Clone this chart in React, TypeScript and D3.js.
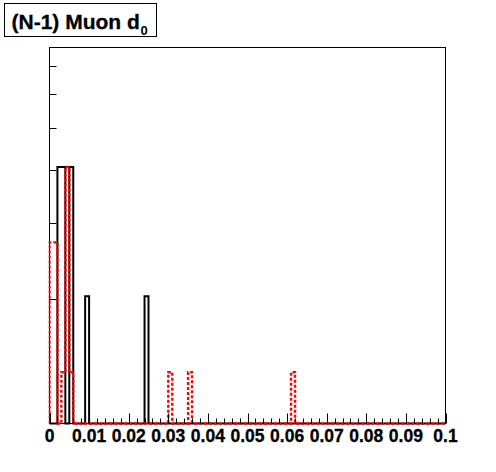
import React from "react";
import * as d3 from "d3";

// Histogram definition: 100 bins from 0 to 0.1
const xMin = 0;
const xMax = 0.1;
const nBins = 100;

// Non-empty bins (bin index, content) — black solid histogram
const blackBins = [2, 3, 5, 9, 24];
const blackValues = [4.06, 4.06, 4.06, 2.03, 2.03];

// Non-empty bins — red dotted histogram
const redBins = [0, 1, 3, 4, 5, 30, 35, 61];
const redValues = [2.71, 2.71, 1.35, 4.06, 1.35, 1.35, 1.35, 1.35];

const xTickLabels = ["0", "0.01", "0.02", "0.03", "0.04", "0.05", "0.06", "0.07", "0.08", "0.09", "0.1"];
const xTickValues = [0, 0.01, 0.02, 0.03, 0.04, 0.05, 0.06, 0.07, 0.08, 0.09, 0.1];
const yTickValues = [2, 3, 4, 5, 6, 7];
const yDomain = [1.025, 7.71];

const title = "(N-1) Muon d";
const titleSub = "0";

const W = 496;
const H = 472;
const frame = { left: 49.5, right: 445.5, top: 47.5, bottom: 423.5 };

function fillBins(idx: number[], vals: number[]): number[] {
  const arr = new Array(nBins).fill(0);
  idx.forEach((b, i) => {
    arr[b] = vals[i];
  });
  return arr;
}

export default function App() {
  const x = d3.scaleLinear().domain([xMin, xMax]).range([frame.left, frame.right]);
  const y = d3.scaleLog().domain(yDomain).range([frame.bottom, frame.top]);
  const bw = (xMax - xMin) / nBins;

  const yOf = (v: number) => (v > 0 ? y(v) : frame.bottom);

  const stepPath = (vals: number[]) => {
    const pts: [number, number][] = [];
    pts.push([x(xMin), frame.bottom]);
    vals.forEach((v, i) => {
      const x0 = x(xMin + i * bw);
      const x1 = x(xMin + (i + 1) * bw);
      pts.push([x0, yOf(v)]);
      pts.push([x1, yOf(v)]);
    });
    pts.push([x(xMax), frame.bottom]);
    return d3.line()(pts) || "";
  };

  const black = fillBins(blackBins, blackValues);
  const red = fillBins(redBins, redValues);

  const minorTicks = d3.range(0, 51).map((i) => i * 0.002);

  return (
    <svg
      width={W}
      height={H}
      style={{ position: "absolute", left: 0, top: 0, background: "#fff" }}
      fontFamily="'Liberation Sans', Arial, sans-serif"
    >
      <rect x={0} y={0} width={W} height={H} fill="#fff" />
      <defs>
        <clipPath id="frameClip">
          <rect x={frame.left - 1} y={frame.top} width={frame.right - frame.left + 2} height={frame.bottom - frame.top + 3} />
        </clipPath>
      </defs>

      {/* frame */}
      <rect
        x={frame.left}
        y={frame.top}
        width={frame.right - frame.left}
        height={frame.bottom - frame.top}
        fill="none"
        stroke="#000"
        strokeWidth={1}
      />

      {/* histograms */}
      <g clipPath="url(#frameClip)">
        <path d={stepPath(black)} fill="none" stroke="#000" strokeWidth={2} />
        <path d={stepPath(red)} fill="none" stroke="#ff0000" strokeWidth={2.4} strokeDasharray="3,2" />
      </g>

      {/* x ticks */}
      {minorTicks.map((t, i) => {
        const major = i % 5 === 0;
        const px = Math.round(x(t)) + 0.5;
        return (
          <line key={"xt" + i} x1={px} x2={px} y1={frame.bottom} y2={frame.bottom - (major ? 10 : 5)} stroke="#000" strokeWidth={1} />
        );
      })}

      {/* y ticks */}
      {yTickValues.map((v, i) => {
        const py = Math.round(y(v)) + 0.5;
        return <line key={"yt" + i} x1={frame.left} x2={frame.left + 7} y1={py} y2={py} stroke="#000" strokeWidth={1} />;
      })}

      {/* x labels */}
      {xTickValues.map((t, i) => (
        <text key={"xl" + i} x={x(t)} y={442} textAnchor="middle" fontSize={17.5} fontWeight="bold" fill="#000" stroke="#000" strokeWidth={0.3}>
          {xTickLabels[i]}
        </text>
      ))}

      {/* title box */}
      <rect x={4.5} y={3.5} width={152} height={33} fill="#fff" stroke="#000" strokeWidth={1} />
      <text x={11.5} y={28.5} fontSize={21} fontWeight="bold" fill="#000" stroke="#000" strokeWidth={0.3}>
        {title}
      </text>
      <text x={140.5} y={35} fontSize={13} fontWeight="bold" fill="#000">
        {titleSub}
      </text>
    </svg>
  );
}
